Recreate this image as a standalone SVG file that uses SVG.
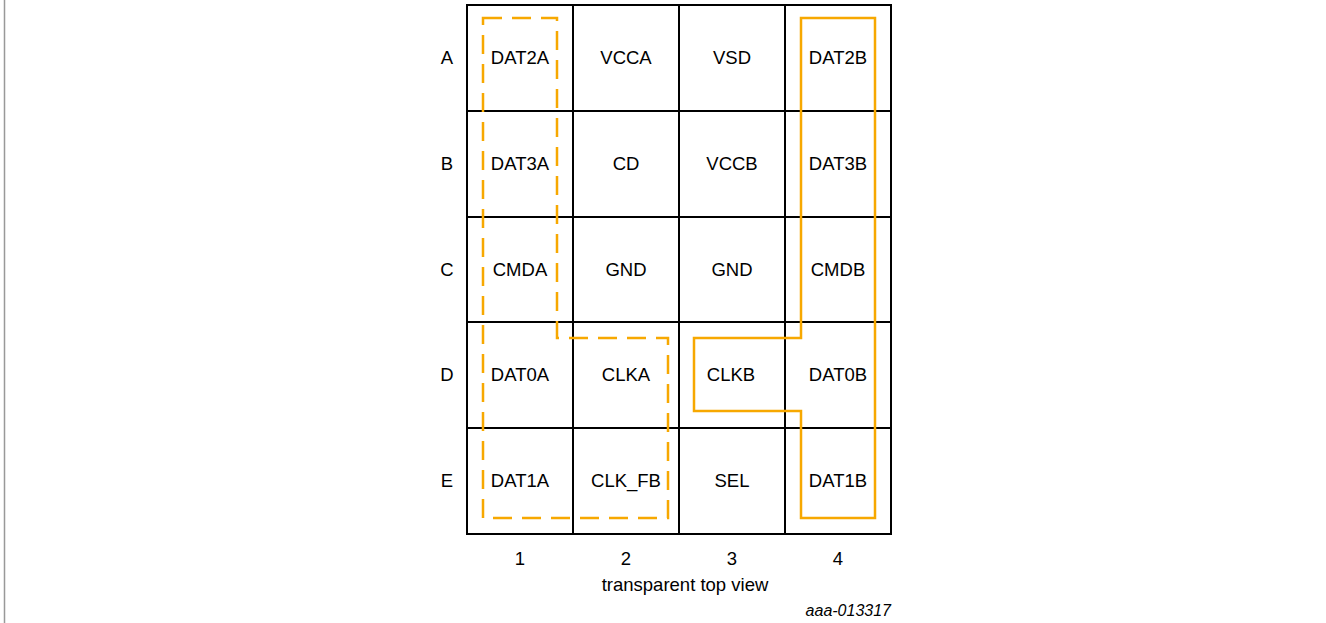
<svg xmlns="http://www.w3.org/2000/svg" width="1326" height="623" viewBox="0 0 1326 623">
<style>
.t{font-family:"Liberation Sans",Arial,sans-serif;font-size:18.5px;fill:#000;text-anchor:middle}
.g{stroke:#000;stroke-width:2;fill:none}
.o{stroke:#F7A800;stroke-width:2.5;fill:none}
.d{stroke-dasharray:19,10}
</style>
<rect width="1326" height="623" fill="#fff"/>
<line x1="4.5" y1="0" x2="4.5" y2="623" stroke="#999" stroke-width="1.5"/>
<g id="grid">
<rect class="g" x="467" y="5" width="424" height="529"/>
<line class="g" x1="573" y1="5" x2="573" y2="534"/>
<line class="g" x1="679" y1="5" x2="679" y2="534"/>
<line class="g" x1="785" y1="5" x2="785" y2="534"/>
<line class="g" x1="467" y1="111" x2="891" y2="111"/>
<line class="g" x1="467" y1="217" x2="891" y2="217"/>
<line class="g" x1="467" y1="322" x2="891" y2="322"/>
<line class="g" x1="467" y1="428" x2="891" y2="428"/>
</g>
<g id="labels">
<text class="t" x="447" y="64">A</text>
<text class="t" x="447" y="170">B</text>
<text class="t" x="447" y="276">C</text>
<text class="t" x="447" y="381">D</text>
<text class="t" x="447" y="487">E</text>
<text class="t" x="520" y="565">1</text>
<text class="t" x="626" y="565">2</text>
<text class="t" x="732" y="565">3</text>
<text class="t" x="838" y="565">4</text>
<text class="t" x="685" y="591">transparent top view</text>
<text class="t" x="891" y="616" style="text-anchor:end;font-style:italic;font-size:16px">aaa-013317</text>
</g>
<g id="cells">
<text class="t" x="520" y="64">DAT2A</text>
<text class="t" x="626" y="64">VCCA</text>
<text class="t" x="732" y="64">VSD</text>
<text class="t" x="838" y="64">DAT2B</text>
<text class="t" x="520" y="170">DAT3A</text>
<text class="t" x="626" y="170">CD</text>
<text class="t" x="732" y="170">VCCB</text>
<text class="t" x="838" y="170">DAT3B</text>
<text class="t" x="520" y="276">CMDA</text>
<text class="t" x="626" y="276">GND</text>
<text class="t" x="732" y="276">GND</text>
<text class="t" x="838" y="276">CMDB</text>
<text class="t" x="520" y="381">DAT0A</text>
<text class="t" x="626" y="381">CLKA</text>
<text class="t" x="731" y="381">CLKB</text>
<text class="t" x="838" y="381">DAT0B</text>
<text class="t" x="520" y="487">DAT1A</text>
<text class="t" x="626" y="487">CLK_FB</text>
<text class="t" x="732" y="487">SEL</text>
<text class="t" x="838" y="487">DAT1B</text>
</g>
<g id="connectors">
<path class="o d" d="M483,18 H557 V338 H668 V518 H483 Z"/>
<path class="o" d="M801,18 H875 V518 H801 V411 H694 V338 H801 Z"/>
</g>
</svg>
